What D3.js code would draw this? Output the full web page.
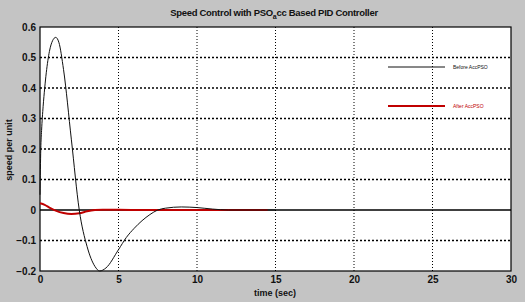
<!DOCTYPE html>
<html><head><meta charset="utf-8">
<script src="https://cdn.jsdelivr.net/npm/d3@7"></script>
<style>body{margin:0;background:#c4c4c4;}svg{display:block;font-family:Arial,"Liberation Sans",sans-serif;}</style>
</head><body>
<script>
const xTicks = [0,5,10,15,20,25,30];
const yTicks = [-0.2,-0.1,0,0.1,0.2,0.3,0.4,0.5,0.6];
const tBefore = [0,0.05,0.1,0.2,0.3,0.4,0.6,0.8,1.0,1.2,1.5,2.0,2.5,3.0,3.5,3.8,4.2,5.0,5.5,6.0,6.5,7.0,7.5,8.0,9.0,10.0,11.0,12.0,15.0];
const vBefore = [0.05,0.2,0.26,0.34,0.40,0.45,0.52,0.555,0.566,0.55,0.46,0.23,0.0,-0.12,-0.185,-0.2,-0.19,-0.13,-0.09,-0.06,-0.035,-0.015,0,0.006,0.01,0.008,0.003,0,0];
const tAfter = [0,0.3,0.6,1.0,1.5,2.0,2.5,3.0,3.5,4.0,6.0,10.0,14.5];
const vAfter = [0.022,0.017,0.008,-0.002,-0.01,-0.013,-0.011,-0.004,0,0.001,0,0,0];
const legendLabels = ["Before AccPSO","After AccPSO"];
const colors = ["#111111","#c00000"];

const W=525,H=302, m={l:40,r:14,t:27,b:31};
const svg=d3.select("body").append("svg").attr("width",W).attr("height",H);
svg.append("rect").attr("width",W).attr("height",H).attr("fill","#c4c4c4");
const x=d3.scaleLinear().domain([0,30]).range([m.l,W-m.r]);
const y=d3.scaleLinear().domain([-0.2,0.6]).range([H-m.b,m.t]);
svg.append("rect").attr("x",x(0)).attr("y",y(0.6)).attr("width",x(30)-x(0)).attr("height",y(-0.2)-y(0.6)).attr("fill","#fff");
// grid
svg.append("g").selectAll("line").data(yTicks.filter(v=>v>-0.2&&v<0.6&&v!==0)).join("line")
  .attr("x1",x(0)).attr("x2",x(30)).attr("y1",d=>y(d)).attr("y2",d=>y(d))
  .attr("stroke","#000").attr("stroke-width",1.3).attr("stroke-dasharray","2,2");
svg.append("g").selectAll("line").data(xTicks.filter(v=>v>0&&v<30)).join("line")
  .attr("x1",d=>x(d)).attr("x2",d=>x(d)).attr("y1",y(0.6)).attr("y2",y(-0.2))
  .attr("stroke","#000").attr("stroke-width",1).attr("stroke-dasharray","1,2");
// zero line
svg.append("line").attr("x1",x(0)).attr("x2",x(30)).attr("y1",y(0)).attr("y2",y(0)).attr("stroke","#000").attr("stroke-width",1.5);
// axes
const gx=svg.append("g").attr("transform",`translate(0,${y(-0.2)})`).call(d3.axisBottom(x).tickValues(xTicks).tickSize(0).tickPadding(5));
const gy=svg.append("g").attr("transform",`translate(${x(0)},0)`).call(d3.axisLeft(y).tickValues(yTicks).tickSize(0).tickPadding(4).tickFormat(d=>d===0?"0":d3.format(".1f")(d)));
[gx,gy].forEach(g=>{g.select(".domain").remove();g.selectAll("text").attr("font-size",10).attr("font-weight","bold").attr("fill","#111");});
// frame
svg.append("rect").attr("x",x(0)).attr("y",y(0.6)).attr("width",x(30)-x(0)).attr("height",y(-0.2)-y(0.6)).attr("fill","none").attr("stroke","#000").attr("stroke-width",1.2);
// lines
const line=d3.line().x(d=>x(d[0])).y(d=>y(d[1])).curve(d3.curveMonotoneX);
svg.append("path").datum(tAfter.map((t,i)=>[t,vAfter[i]])).attr("d",line).attr("fill","none").attr("stroke",colors[1]).attr("stroke-width",2);
svg.append("path").datum(tBefore.map((t,i)=>[t,vBefore[i]])).attr("d",line).attr("fill","none").attr("stroke",colors[0]).attr("stroke-width",1);
// legend
legendLabels.forEach((lab,i)=>{
  const yy=[67,106][i];
  svg.append("line").attr("x1",388).attr("x2",445).attr("y1",yy).attr("y2",yy).attr("stroke",colors[i]).attr("stroke-width",i?2:1);
  svg.append("text").attr("x",453).attr("y",yy+2).attr("font-size",5).attr("fill",colors[i]).text(lab);
});
// title
const tt=svg.append("text").attr("x",274).attr("y",16).attr("text-anchor","middle").attr("font-size",9.5).attr("letter-spacing",-0.3).attr("font-weight","bold").attr("fill","#111");
tt.append("tspan").text("Speed Control with PSO");
tt.append("tspan").attr("dy",3).attr("font-size",7).text("a");
tt.append("tspan").attr("dy",-3).text("cc Based PID Controller");
svg.append("text").attr("x",275).attr("y",296).attr("text-anchor","middle").attr("font-size",9).attr("font-weight","bold").attr("fill","#111").text("time (sec)");
svg.append("text").attr("transform","translate(12,150) rotate(-90)").attr("text-anchor","middle").attr("font-size",9).attr("font-weight","bold").attr("fill","#111").text("speed per unit");
</script>
</body></html>
